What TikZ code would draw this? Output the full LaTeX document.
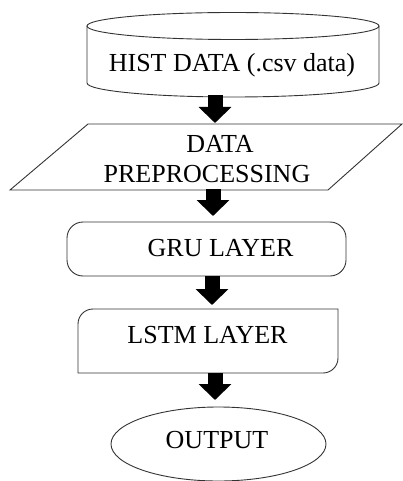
\documentclass[tikz,border=0pt]{standalone}
\usepackage{fontspec}
\setmainfont{Liberation Serif}
\usetikzlibrary{arrows.meta}
\begin{document}
\begin{tikzpicture}[x=1pt,y=-1pt,
  shapeline/.style={draw=black!80,line width=0.9pt},
  lbl/.style={font=\fontsize{26}{29}\selectfont,inner sep=0pt,anchor=base,text=black},
  blockarrow/.style={line width=15pt,draw=black,-{Triangle[width=32pt,length=16pt]}}]
\useasboundingbox (0,0) rectangle (403,481);
% cylinder
\draw[shapeline] (233,26) ellipse [x radius=146,y radius=13.5];
\draw[shapeline] (87,26) -- (87,83) arc[start angle=180,end angle=0,x radius=146,y radius=14] -- (379,26);
\node[lbl] (hist) at (232,72) {HIST DATA (.csv data)};
% parallelogram
\draw[shapeline] (88,124) -- (402,124) -- (328,190) -- (10,190) -- cycle;
\node[lbl,align=center] (prep) at (207,182) {\hspace*{26pt}DATA\\PREPROCESSING};
% GRU
\draw[shapeline,rounded corners=16pt] (67,222) rectangle (346,276);
\node[lbl] (gru) at (220.5,256) {GRU LAYER};
% LSTM
\draw[shapeline] (78,324) arc[start angle=180,end angle=270,radius=15] -- (338,309) -- (338,358)
  arc[start angle=0,end angle=90,radius=15] -- (78,373) -- cycle;
\node[lbl] (lstm) at (207.5,343) {LSTM LAYER};
% ellipse
\draw[shapeline] (218.5,444) ellipse [x radius=107.5,y radius=37];
\node[lbl] (out) at (217,448) {OUTPUT};
% arrows
\coordinate (a1s) at (215,95);  \coordinate (a1e) at (215,123);
\coordinate (a2s) at (213,189); \coordinate (a2e) at (213,216);
\coordinate (a3s) at (212,276); \coordinate (a3e) at (212,305);
\coordinate (a4s) at (215,373); \coordinate (a4e) at (215,400);
\draw[blockarrow] (a1s) -- (a1e);
\draw[blockarrow] (a2s) -- (a2e);
\draw[blockarrow] (a3s) -- (a3e);
\draw[blockarrow] (a4s) -- (a4e);
\end{tikzpicture}
\end{document}
